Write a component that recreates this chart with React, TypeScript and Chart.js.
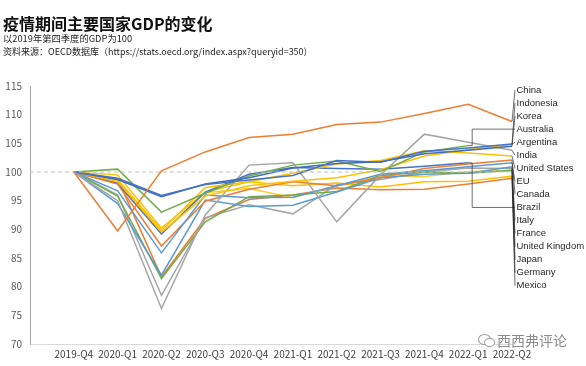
import React, { useEffect, useRef } from 'react';
import { Chart, registerables } from 'chart.js';

Chart.register(...registerables);

const quarters = ['', '2019-Q4', '2020-Q1', '2020-Q2', '2020-Q3', '2020-Q4', '2021-Q1', '2021-Q2', '2021-Q3', '2021-Q4', '2022-Q1', '2022-Q2'];
const yTicks = [70, 75, 80, 85, 90, 95, 100, 105, 110, 115];
const BASELINE = 100;

const china = [100, 89.7, 100.2, 103.5, 106.0, 106.6, 108.3, 108.7, 110.2, 111.8, 108.8];
const indonesia = [100, 98.9, 95.9, 97.8, 98.6, 99.4, 102.0, 101.7, 103.6, 104.2, 104.9];
const korea = [100, 98.7, 95.7, 97.9, 99.0, 100.7, 101.5, 101.8, 103.2, 103.8, 104.5];
const australia = [100, 100.5, 93.0, 96.3, 99.3, 101.2, 101.9, 100.1, 103.5, 104.6, null];
const argentina = [100, 98.4, 89.5, 95.8, 97.6, 98.4, 99.0, 100.4, 102.8, 103.9, 104.8];
const india = [100, 95.0, 76.2, 92.5, 101.2, 101.6, 91.3, 99.5, 106.6, 105.2, 103.8];
const unitedStates = [100, 98.7, 89.8, 97.3, 98.3, 99.8, 101.4, 102.0, 103.7, 103.3, 102.8];
const eu = [100, 96.7, 85.9, 96.0, 95.5, 95.6, 97.6, 99.6, 100.2, 100.9, 101.6];
const canada = [100, 97.9, 87.1, 94.9, 97.0, 98.3, 97.6, 99.0, 100.6, 101.4, 102.1];
const brazil = [100, 98.0, 89.2, 96.5, 99.6, 100.8, 100.6, 100.5, 101.0, 101.6, null];
const italy = [100, 94.5, 82.0, 95.1, 94.0, 94.2, 96.5, 99.0, 99.6, 99.8, 100.9];
const france = [100, 95.8, 81.4, 91.3, 95.7, 96.0, 96.6, 99.4, 100.0, 99.8, 100.3];
const unitedKingdom = [100, 96.0, 78.5, 92.0, 94.3, 92.7, 97.8, 98.7, 100.0, 100.7, 100.6];
const japan = [100, 99.5, 90.2, 96.5, 98.3, 97.6, 98.1, 97.4, 98.3, 98.4, 99.3];
const germany = [100, 98.1, 89.3, 96.4, 97.1, 95.5, 97.6, 99.3, 99.2, 100.1, 100.2];
const mexico = [100, 98.8, 81.7, 91.9, 95.2, 96.0, 97.2, 96.9, 97.0, 97.9, 98.9];

const seriesNames = ['China', 'Indonesia', 'Korea', 'Australia', 'Argentina', 'India', 'United States', 'EU', 'Canada', 'Brazil', 'Italy', 'France', 'United Kingdom', 'Japan', 'Germany', 'Mexico'];
const seriesValues = [china, indonesia, korea, australia, argentina, india, unitedStates, eu, canada, brazil, italy, france, unitedKingdom, japan, germany, mexico];
const seriesColors = ['#ED7D31', '#4472C4', '#3E6CC0', '#70AD47', '#FFC000', '#A5A5A5', '#FFC000', '#5B9BD5', '#ED7D31', '#4472C4', '#5B9BD5', '#70AD47', '#A5A5A5', '#FFC000', '#FFCD33', '#ED7D31'];

const FONT = '"Noto Sans CJK SC", "Noto Sans", sans-serif';

const endLabels = {
  id: 'endLabels',
  afterDatasetsDraw(chart: any) {
    const ctx = chart.ctx;
    const area = chart.chartArea;
    ctx.save();
    ctx.font = '9.5px "Liberation Sans", Arial, sans-serif';
    ctx.fillStyle = '#262626';
    ctx.textBaseline = 'middle';
    ctx.textAlign = 'left';
    ctx.strokeStyle = 'rgba(40,40,40,0.85)';
    ctx.lineWidth = 0.8;
    const top = area.top + 4;
    const step = 13.05;
    seriesNames.forEach((name, i) => {
      const meta = chart.getDatasetMeta(i + 1);
      let p: any = null;
      for (let k = meta.data.length - 1; k >= 0; k--) {
        const raw = chart.data.datasets[i + 1].data[k];
        if (raw !== null && raw !== undefined) { p = meta.data[k]; break; }
      }
      const ly = top + i * step;
      const lx = area.right + 4.5;
      if (p) {
        ctx.beginPath();
        ctx.moveTo(p.x, p.y);
        if (p.x < area.right - 5) {
          ctx.lineTo(p.x + 4, p.y);
          ctx.lineTo(p.x + 4, ly);
        }
        ctx.lineTo(lx - 1.5, ly);
        ctx.stroke();
      }
      ctx.fillText(name, lx, ly);
    });
    ctx.restore();
  },
};

export default function App() {
  const ref = useRef<HTMLCanvasElement>(null);
  useEffect(() => {
    if (!ref.current) return;
    const datasets: any[] = [
      {
        label: 'base',
        data: quarters.map(() => BASELINE),
        borderColor: '#BFBFBF',
        borderWidth: 1,
        borderDash: [4, 3],
        pointRadius: 0,
        fill: false,
      },
      ...seriesNames.map((name, i) => ({
        label: name,
        data: [null, ...seriesValues[i]],
        borderColor: seriesColors[i],
        borderWidth: 1.5,
        pointRadius: 0,
        tension: 0,
        fill: false,
        spanGaps: false,
      })),
    ];
    const chart = new Chart(ref.current, {
      type: 'line',
      data: { labels: quarters, datasets },
      options: {
        animation: false,
        responsive: false,
        maintainAspectRatio: false,
        layout: { padding: { top: 86, right: 74, bottom: 0, left: 0 } },
        plugins: { legend: { display: false }, tooltip: { enabled: false } },
        scales: {
          x: {
            type: 'category',
            offset: false,
            grid: { display: false, drawTicks: false },
            border: { display: true, color: '#D9D9D9', width: 1 },
            ticks: {
              autoSkip: false,
              maxRotation: 0,
              minRotation: 0,
              padding: 4,
              color: '#404040',
              font: { family: FONT, size: 10 },
            },
            afterFit: (s: any) => { s.height = 22; },
          },
          y: {
            min: 70,
            max: 115,
            afterBuildTicks: (s: any) => { s.ticks = yTicks.map((v) => ({ value: v })); },
            grid: { display: false, drawTicks: false },
            border: { display: true, color: '#A6A6A6', width: 1 },
            ticks: {
              padding: 8,
              color: '#595959',
              font: { family: FONT, size: 10 },
            },
            afterFit: (s: any) => { s.width = 30; },
          },
        },
      },
      plugins: [endLabels],
    });
    return () => chart.destroy();
  }, []);

  return (
    <div style={{ position: 'absolute', left: 0, top: 0, width: 586, height: 366, background: '#fff', fontFamily: FONT, overflow: 'hidden' }}>
      <canvas ref={ref} width={586} height={366} style={{ position: 'absolute', left: 0, top: 0, width: 586, height: 366 }} />
      <div style={{ position: 'absolute', left: 3, top: 13, fontSize: 16, fontWeight: 700, color: '#111', lineHeight: '20px', whiteSpace: 'nowrap' }}>疫情期间主要国家GDP的变化</div>
      <div style={{ position: 'absolute', left: 3, top: 32, fontSize: 9.3, color: '#222', lineHeight: '13px', whiteSpace: 'nowrap' }}>以2019年第四季度的GDP为100</div>
      <div style={{ position: 'absolute', left: 3, top: 45, fontSize: 9, color: '#222', lineHeight: '13px', whiteSpace: 'nowrap' }}>资料来源：OECD数据库（https://stats.oecd.org/index.aspx?queryid=350）</div>
      <div style={{ position: 'absolute', left: 478, top: 333, width: 18, height: 14 }}>
        <div style={{ position: 'absolute', left: 0, top: 1, width: 11, height: 9, border: '1px solid #9a9a9a', borderRadius: '50%' }} />
        <div style={{ position: 'absolute', left: 6, top: 5, width: 9, height: 7, border: '1px solid #9a9a9a', borderRadius: '50%', background: '#fff' }} />
      </div>
      <div style={{ position: 'absolute', left: 497, top: 331, fontSize: 14, color: '#8c8c8c', lineHeight: '18px', whiteSpace: 'nowrap' }}>西西弗评论</div>
    </div>
  );
}
